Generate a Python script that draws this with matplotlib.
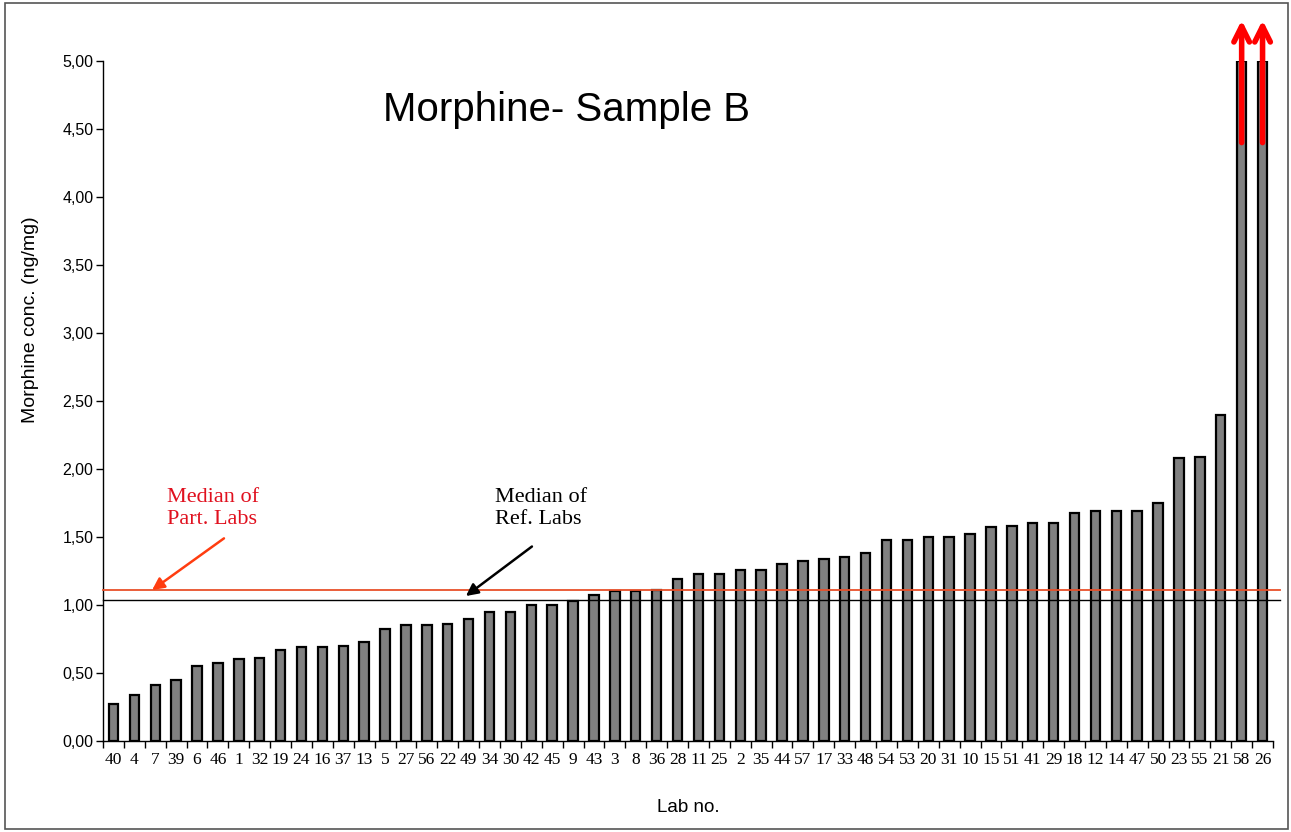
import matplotlib
matplotlib.use("Agg")
import matplotlib.pyplot as plt
from matplotlib.patches import Rectangle
import numpy as np

labs = ["40", "4", "7", "39", "6", "46", "1", "32", "19", "24", "16", "37", "13", "5",
        "27", "56", "22", "49", "34", "30", "42", "45", "9", "43", "3", "8", "36", "28",
        "11", "25", "2", "35", "44", "57", "17", "33", "48", "54", "53", "20", "31", "10",
        "15", "51", "41", "29", "18", "12", "14", "47", "50", "23", "55", "21", "58", "26"]
conc = [0.27, 0.34, 0.41, 0.45, 0.55, 0.57, 0.60, 0.61, 0.67, 0.69, 0.69, 0.70, 0.73, 0.82,
        0.85, 0.85, 0.86, 0.90, 0.95, 0.95, 1.00, 1.00, 1.03, 1.07, 1.10, 1.10, 1.11, 1.19,
        1.23, 1.23, 1.26, 1.26, 1.30, 1.32, 1.34, 1.35, 1.38, 1.475, 1.48, 1.50, 1.50, 1.52,
        1.57, 1.58, 1.60, 1.60, 1.68, 1.69, 1.69, 1.69, 1.75, 2.08, 2.09, 2.40, 5.00, 5.00]
off_scale = ["58", "26"]
median_part = 1.11
median_ref = 1.04
yticks = [0.0, 0.5, 1.0, 1.5, 2.0, 2.5, 3.0, 3.5, 4.0, 4.5, 5.0]

fig = plt.figure(figsize=(12.91, 8.32), dpi=100)
ax = fig.add_axes([103/1291, 91/832, 1170/1291, 680/832])

x = np.arange(len(labs))
ax.bar(x, conc, width=0.45, color="#808080", edgecolor="black", linewidth=1.6, zorder=3)

ax.set_xlim(-0.5, len(labs) - 0.5)
ax.set_ylim(0, 5.0)

for s in ["top", "right"]:
    ax.spines[s].set_visible(False)
for s in ["left", "bottom"]:
    ax.spines[s].set_linewidth(1.0)

ax.set_yticks(yticks)
ax.set_yticklabels([f"{v:.2f}".replace(".", ",") for v in yticks],
                   fontfamily="Liberation Sans", fontsize=11.5)
ax.tick_params(axis="y", direction="out", length=5, width=1, pad=2)

ax.set_xticks(x)
ax.set_xticklabels(labs, fontfamily="Liberation Serif", fontsize=12.5)
ax.tick_params(axis="x", which="major", length=0, pad=8)
ax.set_xticks(np.arange(len(labs) + 1) - 0.5, minor=True)
ax.tick_params(axis="x", which="minor", direction="out", length=5, width=1)

ax.set_ylabel("Morphine conc. (ng/mg)", fontfamily="Liberation Sans", fontsize=14)
ax.yaxis.set_label_coords(-0.055, 0.619)
ax.set_xlabel("Lab no.", fontfamily="Liberation Sans", fontsize=13.5, labelpad=22)

# median lines
ax.plot([-0.5, len(labs) - 0.15], [median_part, median_part], color="#e8502a", lw=1.3,
        zorder=4, clip_on=False)
ax.plot([-0.5, len(labs) - 0.15], [median_ref, median_ref], color="black", lw=1.0,
        zorder=4, clip_on=False)

# title
ax.text(21.7, 4.64, "Morphine- Sample B", fontfamily="Liberation Sans", fontsize=29,
        ha="center", va="center")

# annotations
ax.text(2.55, 1.86, "Median of\nPart. Labs", color="#e0101e", fontfamily="Liberation Serif",
        fontsize=16, ha="left", va="top", zorder=6)
ax.annotate("", xy=(1.85, median_part), xytext=(5.29, 1.49),
            arrowprops=dict(arrowstyle="-|>", color="#ff3d10", lw=1.8, mutation_scale=18,
                            shrinkA=0, shrinkB=0), zorder=6)
ax.text(18.25, 1.86, "Median of\nRef. Labs", color="black", fontfamily="Liberation Serif",
        fontsize=16, ha="left", va="top", zorder=6)
ax.annotate("", xy=(16.87, 1.066), xytext=(20.03, 1.43),
            arrowprops=dict(arrowstyle="-|>", color="black", lw=1.8, mutation_scale=18,
                            shrinkA=0, shrinkB=0), zorder=6)

# off-scale arrows
for lab in off_scale:
    i = labs.index(lab)
    ax.annotate("", xy=(x[i], 5.30), xytext=(x[i], 4.40),
                arrowprops=dict(arrowstyle="->", color="#ff0000", lw=4, mutation_scale=28,
                                shrinkA=0, shrinkB=0),
                annotation_clip=False, zorder=7)

# outer frame
fig.patches.append(Rectangle((5/1291, 3/832), 1283/1291, 826/832, transform=fig.transFigure,
                             fill=False, edgecolor="#555555", lw=1.2))

fig.savefig("out.png", dpi=100)
